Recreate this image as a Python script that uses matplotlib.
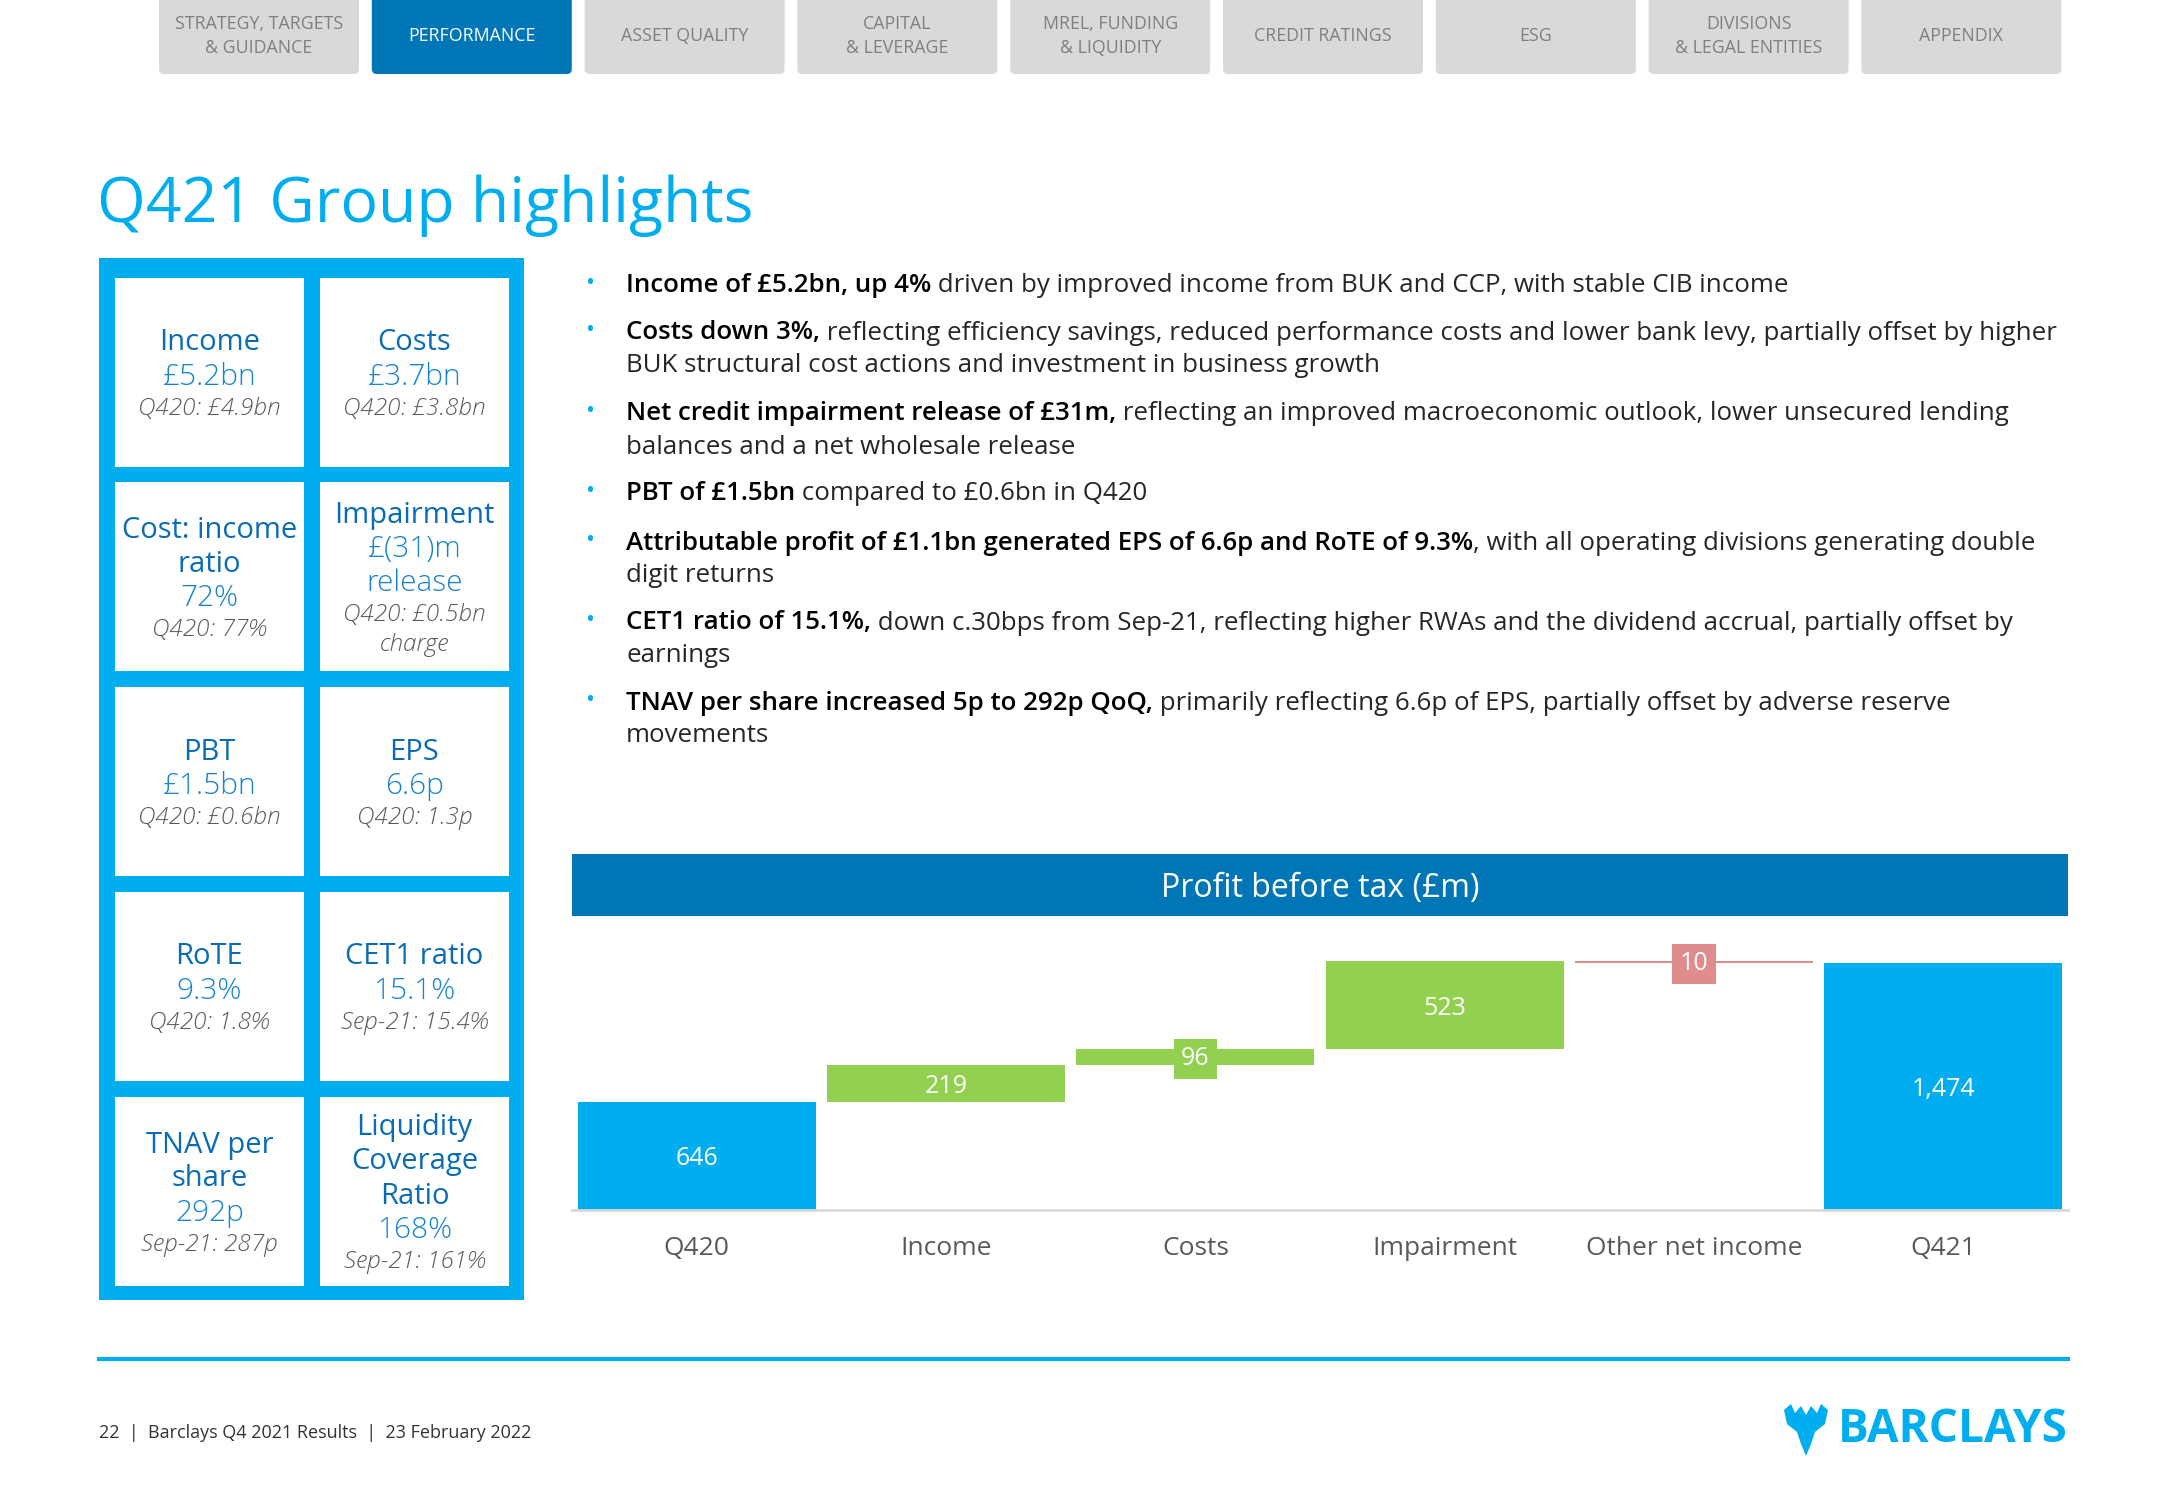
import matplotlib.pyplot as plt
from matplotlib.patches import Rectangle, FancyBboxPatch, Polygon

plt.rcParams['font.family'] = ['Open Sans', 'DejaVu Sans']

# navigation tabs
tabs = ['STRATEGY, TARGETS\n& GUIDANCE', 'PERFORMANCE', 'ASSET QUALITY', 'CAPITAL\n& LEVERAGE',
        'MREL, FUNDING\n& LIQUIDITY', 'CREDIT RATINGS', 'ESG', 'DIVISIONS\n& LEGAL ENTITIES', 'APPENDIX']
active_tab = 'PERFORMANCE'

# KPI tiles (2 columns x 5 rows)
kpi_titles = ['Income', 'Costs', 'Cost: income\nratio', 'Impairment', 'PBT', 'EPS',
              'RoTE', 'CET1 ratio', 'TNAV per\nshare', 'Liquidity\nCoverage\nRatio']
kpi_values = ['£5.2bn', '£3.7bn', '72%', '£(31)m\nrelease', '£1.5bn', '6.6p',
              '9.3%', '15.1%', '292p', '168%']
kpi_compare = ['Q420: £4.9bn', 'Q420: £3.8bn', 'Q420: 77%', 'Q420: £0.5bn\ncharge', 'Q420: £0.6bn',
               'Q420: 1.3p', 'Q420: 1.8%', 'Sep-21: 15.4%', 'Sep-21: 287p', 'Sep-21: 161%']

# commentary bullets
bullet_bold = ['Income of £5.2bn, up 4%',
               'Costs down 3%,',
               'Net credit impairment release of £31m,',
               'PBT of £1.5bn',
               'Attributable profit of £1.1bn generated EPS of 6.6p and RoTE of 9.3%',
               'CET1 ratio of 15.1%,',
               'TNAV per share increased 5p to 292p QoQ,']
bullet_rest = [' driven by improved income from BUK and CCP, with stable CIB income',
               ' reflecting efficiency savings, reduced performance costs and lower bank levy, partially offset by higher',
               ' reflecting an improved macroeconomic outlook, lower unsecured lending',
               ' compared to £0.6bn in Q420',
               ', with all operating divisions generating double',
               ' down c.30bps from Sep-21, reflecting higher RWAs and the dividend accrual, partially offset by',
               ' primarily reflecting 6.6p of EPS, partially offset by adverse reserve']
bullet_wrap = ['', 'BUK structural cost actions and investment in business growth',
               'balances and a net wholesale release', '', 'digit returns', 'earnings', 'movements']

# PBT waterfall (£m)
categories = ['Q420', 'Income', 'Costs', 'Impairment', 'Other net income', 'Q421']
pbt_start = 646
pbt_steps = [219, 96, 523, -10]
pbt_end = 1474

CYAN = '#00AEEF'
NAVY = '#0076B6'
GREEN = '#92D050'
PINK = '#DE8C8C'

fig = plt.figure(figsize=(21.66, 15), dpi=100)
bg = fig.add_axes([0, 0, 1, 1])
bg.set_xlim(0, 2166)
bg.set_ylim(1500, 0)
bg.axis('off')

# tabs
for i, t in enumerate(tabs):
    x0 = 159 + i * 212.8
    active = t == active_tab
    bg.add_patch(FancyBboxPatch((x0, -20), 200, 94, boxstyle='round,pad=0,rounding_size=5',
                                fc=NAVY if active else '#D9D9D9', ec='none'))
    bg.text(x0 + 100, 36, t, ha='center', va='center', fontsize=12.8, linespacing=1.4,
            color='white' if active else '#7F7F7F')

# title
bg.text(97, 206, 'Q421 Group highlights', fontsize=45, color=CYAN, va='center', ha='left')

# KPI panel
bg.add_patch(Rectangle((99, 258), 425, 1042, fc=CYAN, ec='none'))
col_x = [115, 320]
row_y = [278, 482, 687, 892, 1097]
for k in range(len(kpi_titles)):
    cx = col_x[k % 2]
    cy = row_y[k // 2]
    bg.add_patch(Rectangle((cx, cy), 189, 189, fc='white', ec='none'))
    lines = [(s, 'title') for s in kpi_titles[k].split('\n')]
    lines += [(s, 'value') for s in kpi_values[k].split('\n')]
    lines += [(s, 'cmp') for s in kpi_compare[k].split('\n')]
    lh = {'title': 34, 'value': 34, 'cmp': 30}
    total = sum(lh[st] for _, st in lines)
    y = cy + 97 - total / 2
    for s, st in lines:
        yc = y + lh[st] / 2
        if st == 'title':
            bg.text(cx + 94.5, yc, s, ha='center', va='center', fontsize=21, color='#0A6CB4')
        elif st == 'value':
            bg.text(cx + 94.5, yc, s, ha='center', va='center', fontsize=21.5, color='#1684CF',
                    fontweight='light')
        else:
            bg.text(cx + 94.5, yc, s, ha='center', va='center', fontsize=17.5, color='#595959',
                    style='italic', fontweight='light')
        y += lh[st]

# bullets
renderer = fig.canvas.get_renderer()
inv = bg.transData.inverted()
bullet_y = [286, 333, 414, 494, 543, 623, 703]
for b, r, w, y in zip(bullet_bold, bullet_rest, bullet_wrap, bullet_y):
    bg.text(591, y - 2, '•', ha='center', va='center', fontsize=17, color=CYAN)
    tb = bg.text(626, y, b, ha='left', va='center', fontsize=18.6, color='black', fontweight='semibold')
    ext = tb.get_window_extent(renderer=renderer)
    xr = inv.transform((ext.x1, ext.y0))[0]
    bg.text(xr, y, r, ha='left', va='center', fontsize=18.6, color='#262626')
    if w:
        bg.text(626, y + 33, w, ha='left', va='center', fontsize=18.6, color='#262626')

# chart header bar
bg.add_patch(Rectangle((572, 854), 1496, 62, fc=NAVY, ec='none'))
bg.text(1320, 889, 'Profit before tax (£m)', ha='center', va='center', fontsize=23, color='white')

# footer
bg.plot([99, 2068], [1359, 1359], color=CYAN, lw=3)
bg.text(99, 1433, '22  |  Barclays Q4 2021 Results  |  23 February 2022', ha='left', va='center',
        fontsize=13, color='#333333')
bg.text(2068, 1430, 'BARCLAYS', ha='right', va='center', fontsize=33, fontweight='bold', color=CYAN)
eagle = [(0, 6), (7, 0), (11, 9), (17, 2), (22, 11), (27, 2), (33, 9), (37, 0), (44, 6),
         (41, 20), (31, 28), (27, 40), (22, 52), (17, 40), (13, 28), (3, 20)]
bg.add_patch(Polygon([(1784 + px, 1404 + py) for px, py in eagle], closed=True, fc=CYAN, ec='none'))

# waterfall chart
ax = fig.add_axes([572 / 2166, 290 / 1500, 1496 / 2166, 280 / 1500])
bottoms, heights, colors = [0], [pbt_start], [CYAN]
level = pbt_start
for s in pbt_steps:
    new = level + s
    bottoms.append(min(level, new))
    heights.append(abs(s))
    colors.append(GREEN if s > 0 else PINK)
    level = new
bottoms.append(0)
heights.append(pbt_end)
colors.append(CYAN)
labels = [pbt_start] + pbt_steps + [pbt_end]

xs = list(range(len(categories)))
ax.bar(xs, heights, bottom=bottoms, width=0.955, color=colors, zorder=2)
for x, b, h, c, v in zip(xs, bottoms, heights, colors, labels):
    txt = f'{abs(v):,}'
    if h < 150:
        ax.text(x, b + h / 2 - 10, txt, ha='center', va='center', fontsize=18, color='white', zorder=3,
                bbox=dict(boxstyle='square,pad=0.3', fc=c, ec='none'))
    else:
        ax.text(x, b + h / 2 - 18, txt, ha='center', va='center', fontsize=18, color='white', zorder=3)

ax.set_xlim(-0.5, 5.5)
ax.set_ylim(0, 1671)
ax.set_xticks(xs)
ax.set_xticklabels(categories, fontsize=19, color='#595959')
ax.tick_params(axis='x', length=0, pad=19)
ax.set_yticks([])
for sp in ['top', 'left', 'right']:
    ax.spines[sp].set_visible(False)
ax.spines['bottom'].set_color('#D9D9D9')
ax.spines['bottom'].set_linewidth(2)
ax.patch.set_alpha(0)

fig.savefig('out.png', dpi=100)
